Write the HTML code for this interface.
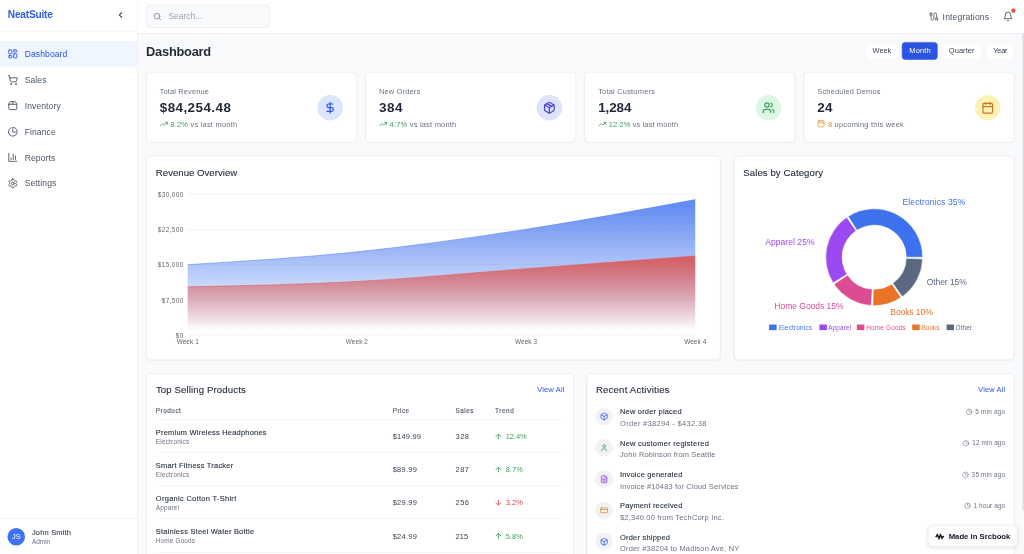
<!DOCTYPE html>
<html lang="en">
<head>
<meta charset="utf-8">
<title>NeatSuite Dashboard</title>
<style>
*{box-sizing:border-box;margin:0;padding:0}
html,body{width:1024px;height:554px;overflow:hidden;background:#f9fafb}
body{font-family:"Liberation Sans",Arial,sans-serif;color:#1f2937}
#app{position:absolute;left:0;top:0;width:1920px;height:1039px;transform:scale(.5333333);transform-origin:0 0;background:#f9fafb;overflow:hidden}
.abs{position:absolute}
.t{position:absolute;white-space:nowrap;line-height:1;transform:translateY(-52%)}
.t.r{transform:translate(-100%,-52%)}
.t.c{transform:translate(-50%,-52%)}
svg{display:block;overflow:visible}
.ic{position:absolute;fill:none;stroke:currentColor;stroke-width:2;stroke-linecap:round;stroke-linejoin:round}
#side{position:absolute;left:0;top:0;width:258px;height:1039px;background:#fff;border-right:1px solid #e5e7eb}
#sidehead{position:absolute;left:0;top:0;width:257px;height:59px;border-bottom:1px solid #e9ebee}
.nav{position:absolute;left:0;width:257px;height:48px;color:#4b5563}
.nav.on{background:#eff6ff;color:#2b54e1}
#user{position:absolute;left:0;top:970.6px;width:257px;height:69px;border-top:1px solid #e5e7eb}
#head{position:absolute;left:258px;top:0;width:1662px;height:63px;background:#fff;border-bottom:1px solid #e5e7eb}
#search{position:absolute;left:273.6px;top:9px;width:232.4px;height:43px;background:#f9fafb;border:1px solid #e2e5e9;border-radius:8px}
.btn{position:absolute;top:78.6px;height:33px;border-radius:6.5px;background:#fff;border:1px solid #f0f1f3}
.btn.on{background:#2b54e1;border-color:#2b54e1}
.card{position:absolute;background:#fff;border:1px solid #e5e7eb;border-radius:8px;box-shadow:0 1px 2px rgba(0,0,0,.04)}
.circ{position:absolute;width:48.6px;height:48.6px;border-radius:50%}
.med{-webkit-text-stroke:.2px currentColor}
.hr{position:absolute;height:1px;background:#eceef1}
</style>
</head>
<body>
<div id="app">
<div id="side"><div id="sidehead"></div>
<span class="t" id="logo" style="left:14.6px;top:28.3px;font-size:19px;letter-spacing:-0.40px;color:#2f5fe3;font-weight:700;">NeatSuite</span>
<svg class="ic" viewBox="0 0 24 24" style="left:216.9px;top:19.1px;width:18px;height:18px;color:#374151;stroke-width:2.7;"><path d="m15 18-6-6 6-6"/></svg>
<div class="nav on" style="top:77.0px">
<svg class="ic" viewBox="0 0 24 24" style="left:13.8px;top:14.0px;width:20px;height:20px;"><rect width="7" height="9" x="3" y="3" rx="1"/><rect width="7" height="5" x="14" y="3" rx="1"/><rect width="7" height="9" x="14" y="12" rx="1"/><rect width="7" height="5" x="3" y="16" rx="1"/></svg>
<span class="t" style="left:46.3px;top:25.3px;font-size:16px;letter-spacing:.2px;">Dashboard</span>
</div>
<div class="nav" style="top:125.6px">
<svg class="ic" viewBox="0 0 24 24" style="left:13.8px;top:14.0px;width:20px;height:20px;"><circle cx="8" cy="21" r="1"/><circle cx="19" cy="21" r="1"/><path d="M2.05 2.05h2l2.66 12.42a2 2 0 0 0 2 1.58h9.78a2 2 0 0 0 1.95-1.57l1.65-7.43H5.12"/></svg>
<span class="t" style="left:46.3px;top:25.3px;font-size:16px;letter-spacing:.2px;">Sales</span>
</div>
<div class="nav" style="top:174.2px">
<svg class="ic" viewBox="0 0 24 24" style="left:13.8px;top:14.0px;width:20px;height:20px;"><path d="M3 9h18v10a2 2 0 0 1-2 2H5a2 2 0 0 1-2-2V9Z"/><path d="m3 9 2.45-4.9A2 2 0 0 1 7.24 3h9.52a2 2 0 0 1 1.8 1.1L21 9"/><path d="M12 3v6"/></svg>
<span class="t" style="left:46.3px;top:25.3px;font-size:16px;letter-spacing:.2px;">Inventory</span>
</div>
<div class="nav" style="top:222.8px">
<svg class="ic" viewBox="0 0 24 24" style="left:13.8px;top:14.0px;width:20px;height:20px;"><path d="M21.21 15.89A10 10 0 1 1 8 2.83"/><path d="M22 12A10 10 0 0 0 12 2v10z"/></svg>
<span class="t" style="left:46.3px;top:25.3px;font-size:16px;letter-spacing:.2px;">Finance</span>
</div>
<div class="nav" style="top:271.4px">
<svg class="ic" viewBox="0 0 24 24" style="left:13.8px;top:14.0px;width:20px;height:20px;"><path d="M3 3v18h18"/><path d="M18 17V9"/><path d="M13 17V5"/><path d="M8 17v-3"/></svg>
<span class="t" style="left:46.3px;top:25.3px;font-size:16px;letter-spacing:.2px;">Reports</span>
</div>
<div class="nav" style="top:320.0px">
<svg class="ic" viewBox="0 0 24 24" style="left:13.8px;top:14.0px;width:20px;height:20px;"><path d="M12.22 2h-.44a2 2 0 0 0-2 2v.18a2 2 0 0 1-1 1.73l-.43.25a2 2 0 0 1-2 0l-.15-.08a2 2 0 0 0-2.73.73l-.22.38a2 2 0 0 0 .73 2.73l.15.1a2 2 0 0 1 1 1.72v.51a2 2 0 0 1-1 1.74l-.15.09a2 2 0 0 0-.73 2.73l.22.38a2 2 0 0 0 2.73.73l.15-.08a2 2 0 0 1 2 0l.43.25a2 2 0 0 1 1 1.73V20a2 2 0 0 0 2 2h.44a2 2 0 0 0 2-2v-.18a2 2 0 0 1 1-1.73l.43-.25a2 2 0 0 1 2 0l.15.08a2 2 0 0 0 2.73-.73l.22-.39a2 2 0 0 0-.73-2.73l-.15-.08a2 2 0 0 1-1-1.74v-.5a2 2 0 0 1 1-1.74l.15-.09a2 2 0 0 0 .73-2.73l-.22-.38a2 2 0 0 0-2.73-.73l-.15.08a2 2 0 0 1-2 0l-.43-.25a2 2 0 0 1-1-1.73V4a2 2 0 0 0-2-2z"/><circle cx="12" cy="12" r="3"/></svg>
<span class="t" style="left:46.3px;top:25.3px;font-size:16px;letter-spacing:.2px;">Settings</span>
</div>
<div id="user"></div>
<div class="abs" style="left:14px;top:989.5px;width:33px;height:33px;border-radius:50%;background:#3e71ee"></div>
<span class="t c" style="left:30.5px;top:1006.1px;font-size:14px;color:#fff;">JS</span>
<span class="t med" style="left:59.8px;top:998.4px;font-size:14px;letter-spacing:0.37px;color:#374151;">John Smith</span>
<span class="t" style="left:59.8px;top:1015.9px;font-size:12px;letter-spacing:0.06px;color:#6b7280;">Admin</span>
</div>
<div id="head"></div><div id="search"></div>
<svg class="ic" viewBox="0 0 24 24" style="left:286.6px;top:22.7px;width:16px;height:16px;color:#6b7280;"><circle cx="11" cy="11" r="8"/><path d="m21 21-4.3-4.3"/></svg>
<span class="t" style="left:315.8px;top:30.6px;font-size:16px;letter-spacing:-0.05px;color:#9ca3af;">Search...</span>
<svg class="ic" viewBox="0 0 24 24" style="left:1741.9px;top:22.1px;width:18px;height:18px;color:#4b5563;"><path d="M17 21v-2a1 1 0 0 1-1-1v-1a2 2 0 0 1 2-2h2a2 2 0 0 1 2 2v1a1 1 0 0 1-1 1"/><path d="M19 15V6.5a1 1 0 0 0-7 0v11a1 1 0 0 1-7 0V9"/><path d="M21 21v-2h-4"/><path d="M3 5h4V3"/><path d="M7 5a1 1 0 0 1 1 1v1a2 2 0 0 1-2 2H4a2 2 0 0 1-2-2V6a1 1 0 0 1 1-1V3"/></svg>
<span class="t" style="left:1767.4px;top:31.5px;font-size:16px;letter-spacing:0.30px;color:#4b5563;">Integrations</span>
<svg class="ic" viewBox="0 0 24 24" style="left:1879.6px;top:20.7px;width:20px;height:20px;color:#4b5563;"><path d="M6 8a6 6 0 0 1 12 0c0 7 3 9 3 9H3s3-2 3-9"/><path d="M10.3 21a1.94 1.94 0 0 0 3.4 0"/></svg>
<div class="abs" style="left:1896.2px;top:16.2px;width:8px;height:8px;border-radius:50%;background:#e64d3d"></div>
<span class="t" id="h1" style="left:273.9px;top:98.1px;font-size:24px;letter-spacing:-0.41px;color:#1f2937;font-weight:700;">Dashboard</span>
<div class="btn" style="left:1622.6px;width:60.7px"></div>
<span class="t" style="left:1636.1px;top:95.4px;font-size:14px;letter-spacing:-0.16px;color:#374151;">Week</span>
<div class="btn on" style="left:1691.2px;width:66.4px"></div>
<span class="t" style="left:1704.8px;top:95.4px;font-size:14px;letter-spacing:0.36px;color:#fff;">Month</span>
<div class="btn" style="left:1766.2px;width:74.6px"></div>
<span class="t" style="left:1779.0px;top:95.4px;font-size:14px;letter-spacing:0.13px;color:#374151;">Quarter</span>
<div class="btn" style="left:1848.8px;width:52.5px"></div>
<span class="t" style="left:1862.2px;top:95.4px;font-size:14px;letter-spacing:-0.42px;color:#374151;">Year</span>
<div class="card" style="left:274.0px;top:135px;width:395.0px;height:132.3px"></div>
<span class="t" style="left:299.5px;top:171.6px;font-size:14px;letter-spacing:0.23px;color:#6b7280;">Total Revenue</span>
<span class="t" style="left:299.5px;top:202.5px;font-size:25.2px;letter-spacing:0.81px;color:#1f2937;font-weight:700;">$84,254.48</span>
<svg class="ic" viewBox="0 0 24 24" style="left:299.5px;top:225.0px;width:15px;height:15px;color:#3f9f5c;stroke-width:2.5;"><polyline points="22 7 13.5 15.5 8.5 10.5 2 17"/><polyline points="16 7 22 7 22 13"/></svg>
<span class="t" style="left:319.4px;top:232.7px;font-size:14px;letter-spacing:0.4px;color:#6b7280"><span style="color:#3f9f5c">8.2%</span> vs last month</span>
<div class="circ" style="left:594.8px;top:177.8px;background:#dbe6fd"></div>
<svg class="ic" viewBox="0 0 24 24" style="left:607.1px;top:190.1px;width:24px;height:24px;color:#2b54e1;stroke-width:2.3;"><line x1="12" x2="12" y1="2" y2="22"/><path d="M17 5H9.5a3.5 3.5 0 0 0 0 7h5a3.5 3.5 0 0 1 0 7H6"/></svg>
<div class="card" style="left:685.0px;top:135px;width:395.0px;height:132.3px"></div>
<span class="t" style="left:710.5px;top:171.6px;font-size:14px;letter-spacing:0.31px;color:#6b7280;">New Orders</span>
<span class="t" style="left:710.5px;top:202.5px;font-size:25.2px;letter-spacing:1.05px;color:#1f2937;font-weight:700;">384</span>
<svg class="ic" viewBox="0 0 24 24" style="left:710.5px;top:225.0px;width:15px;height:15px;color:#3f9f5c;stroke-width:2.5;"><polyline points="22 7 13.5 15.5 8.5 10.5 2 17"/><polyline points="16 7 22 7 22 13"/></svg>
<span class="t" style="left:730.4px;top:232.7px;font-size:14px;letter-spacing:0.4px;color:#6b7280"><span style="color:#3f9f5c">4.7%</span> vs last month</span>
<div class="circ" style="left:1005.8px;top:177.8px;background:#dfe3fc"></div>
<svg class="ic" viewBox="0 0 24 24" style="left:1018.1px;top:190.1px;width:24px;height:24px;color:#4a42d6;stroke-width:2.3;"><path d="m7.5 4.27 9 5.15"/><path d="M21 8a2 2 0 0 0-1-1.73l-7-4a2 2 0 0 0-2 0l-7 4A2 2 0 0 0 3 8v8a2 2 0 0 0 1 1.73l7 4a2 2 0 0 0 2 0l7-4A2 2 0 0 0 21 16Z"/><path d="m3.3 7 8.7 5 8.7-5"/><path d="M12 22V12"/></svg>
<div class="card" style="left:1096.0px;top:135px;width:395.0px;height:132.3px"></div>
<span class="t" style="left:1121.5px;top:171.6px;font-size:14px;letter-spacing:0.38px;color:#6b7280;">Total Customers</span>
<span class="t" style="left:1121.5px;top:202.5px;font-size:25.2px;letter-spacing:-0.13px;color:#1f2937;font-weight:700;">1,284</span>
<svg class="ic" viewBox="0 0 24 24" style="left:1121.5px;top:225.0px;width:15px;height:15px;color:#3f9f5c;stroke-width:2.5;"><polyline points="22 7 13.5 15.5 8.5 10.5 2 17"/><polyline points="16 7 22 7 22 13"/></svg>
<span class="t" style="left:1141.4px;top:232.7px;font-size:14px;letter-spacing:0.22px;color:#6b7280"><span style="color:#3f9f5c">12.2%</span> vs last month</span>
<div class="circ" style="left:1416.8px;top:177.8px;background:#dcf7e3"></div>
<svg class="ic" viewBox="0 0 24 24" style="left:1429.1px;top:190.1px;width:24px;height:24px;color:#3f9f5c;stroke-width:2.3;"><path d="M16 21v-2a4 4 0 0 0-4-4H6a4 4 0 0 0-4 4v2"/><circle cx="9" cy="7" r="4"/><path d="M22 21v-2a4 4 0 0 0-3-3.87"/><path d="M16 3.13a4 4 0 0 1 0 7.75"/></svg>
<div class="card" style="left:1507.0px;top:135px;width:395.0px;height:132.3px"></div>
<span class="t" style="left:1532.5px;top:171.6px;font-size:14px;letter-spacing:0.29px;color:#6b7280;">Scheduled Demos</span>
<span class="t" style="left:1532.5px;top:202.5px;font-size:25.2px;letter-spacing:0.33px;color:#1f2937;font-weight:700;">24</span>
<svg class="ic" viewBox="0 0 24 24" style="left:1532.3px;top:224.2px;width:15px;height:15px;color:#d98a2b;"><path d="M8 2v4"/><path d="M16 2v4"/><rect width="18" height="18" x="3" y="4" rx="2"/><path d="M3 10h18"/></svg>
<span class="t" style="left:1552.4px;top:232.7px;font-size:14px;letter-spacing:0.4px;color:#6b7280"><span style="color:#d98a2b">8</span> upcoming this week</span>
<div class="circ" style="left:1827.8px;top:177.8px;background:#fdf3b8"></div>
<svg class="ic" viewBox="0 0 24 24" style="left:1840.1px;top:190.1px;width:24px;height:24px;color:#c9771c;stroke-width:2.3;"><path d="M8 2v4"/><path d="M16 2v4"/><rect width="18" height="18" x="3" y="4" rx="2"/><path d="M3 10h18"/></svg>
<div class="card" style="left:274.0px;top:292.0px;width:1077.3px;height:383.0px">
<span class="t med" style="left:17.2px;top:31.6px;font-size:18px;letter-spacing:0.03px;color:#1f2937;">Revenue Overview</span>
<svg class="abs" style="left:0;top:0" width="1077.3" height="383.0" font-family="Liberation Sans, Arial, sans-serif" font-size="12" fill="#666">
<defs><linearGradient id="gb" x1="0" y1="0" x2="0" y2="1"><stop offset="5%" stop-color="#3e71ee" stop-opacity=".8"/><stop offset="95%" stop-color="#3e71ee" stop-opacity="0"/></linearGradient><linearGradient id="gr" x1="0" y1="0" x2="0" y2="1"><stop offset="5%" stop-color="#e04a42" stop-opacity=".8"/><stop offset="95%" stop-color="#e04a42" stop-opacity="0"/></linearGradient></defs>
<line x1="77.0" x2="1028.6" y1="70.7" y2="70.7" stroke="#cdd0d5" stroke-width="1" stroke-dasharray="3 3"/>
<line x1="77.0" x2="1028.6" y1="137.8" y2="137.8" stroke="#cdd0d5" stroke-width="1" stroke-dasharray="3 3"/>
<line x1="77.0" x2="1028.6" y1="203.2" y2="203.2" stroke="#cdd0d5" stroke-width="1" stroke-dasharray="3 3"/>
<line x1="77.0" x2="1028.6" y1="269.6" y2="269.6" stroke="#cdd0d5" stroke-width="1" stroke-dasharray="3 3"/>
<line x1="77.0" x2="1028.6" y1="335.1" y2="335.1" stroke="#cdd0d5" stroke-width="1" stroke-dasharray="3 3"/>
<path d="M77.00,203.25C182.73,196.78,288.47,190.31,394.20,179.25C499.93,168.19,605.67,153.22,711.40,136.88C817.13,120.53,922.87,100.86,1028.60,81.19L1028.60,335.06L77.00,335.06Z" fill="url(#gb)"/>
<path d="M77.00,203.25C182.73,196.78,288.47,190.31,394.20,179.25C499.93,168.19,605.67,153.22,711.40,136.88C817.13,120.53,922.87,100.86,1028.60,81.19" fill="none" stroke="#5582f0" stroke-width="1"/>
<path d="M77.00,244.88C182.73,242.66,288.47,240.44,394.20,234.75C499.93,229.06,605.67,218.72,711.40,210.75C817.13,202.78,922.87,194.86,1028.60,186.94L1028.60,335.06L77.00,335.06Z" fill="url(#gr)"/>
<path d="M77.00,244.88C182.73,242.66,288.47,240.44,394.20,234.75C499.93,229.06,605.67,218.72,711.40,210.75C817.13,202.78,922.87,194.86,1028.60,186.94" fill="none" stroke="#dd5a55" stroke-width="1"/>
<text x="69.4" y="71.0" text-anchor="end" dominant-baseline="central" letter-spacing=".75">$30,000</text>
<text x="69.4" y="138.1" text-anchor="end" dominant-baseline="central" letter-spacing=".75">$22,500</text>
<text x="69.4" y="203.5" text-anchor="end" dominant-baseline="central" letter-spacing=".75">$15,000</text>
<text x="69.4" y="269.9" text-anchor="end" dominant-baseline="central" letter-spacing=".75">$7,500</text>
<text x="69.4" y="335.4" text-anchor="end" dominant-baseline="central" letter-spacing=".75">$0</text>
<text x="77.0" y="346.8" text-anchor="middle" dominant-baseline="central" letter-spacing=".2">Week 1</text>
<text x="394.2" y="346.8" text-anchor="middle" dominant-baseline="central" letter-spacing=".2">Week 2</text>
<text x="711.4" y="346.8" text-anchor="middle" dominant-baseline="central" letter-spacing=".2">Week 3</text>
<text x="1028.6" y="346.8" text-anchor="middle" dominant-baseline="central" letter-spacing=".2">Week 4</text>
</svg></div>
<div class="card" style="left:1375.5px;top:292.0px;width:526.5px;height:383.0px">
<span class="t med" style="left:17.1px;top:31.2px;font-size:18px;letter-spacing:0.16px;color:#1f2937;">Sales by Category</span>
<svg class="abs" style="left:-1.5px;top:-1px" width="526.5" height="383.0" font-family="Liberation Sans, Arial, sans-serif">
<path d="M354.90,190.30A90.80,90.80,0,0,0,215.31,113.72L231.75,139.53A60.20,60.20,0,0,1,324.30,190.30Z" fill="#3e71ee" stroke="#fff" stroke-width="1"/>
<path d="M212.67,115.47A90.80,90.80,0,0,0,187.10,238.42L213.05,222.20A60.20,60.20,0,0,1,230.00,140.69Z" fill="#9a4af0" stroke="#fff" stroke-width="1"/>
<path d="M188.82,241.07A90.80,90.80,0,0,0,258.56,280.93L260.42,250.39A60.20,60.20,0,0,1,214.19,223.96Z" fill="#dc4c93" stroke="#fff" stroke-width="1"/>
<path d="M261.72,281.07A90.80,90.80,0,0,0,314.22,266.02L297.33,240.50A60.20,60.20,0,0,1,262.52,250.48Z" fill="#ea7327" stroke="#fff" stroke-width="1"/>
<path d="M316.83,264.22A90.80,90.80,0,0,0,354.84,193.47L324.26,192.40A60.20,60.20,0,0,1,299.06,239.31Z" fill="#5c6780" stroke="#fff" stroke-width="1"/>
<text x="317.2" y="86.9" text-anchor="start" dominant-baseline="central" font-size="16" letter-spacing="0.23" fill="#3e71ee">Electronics 35%</text>
<text x="152.4" y="162.2" text-anchor="end" dominant-baseline="central" font-size="16" letter-spacing="0.11" fill="#9a4af0">Apparel 25%</text>
<text x="206.8" y="281.9" text-anchor="end" dominant-baseline="central" font-size="16" letter-spacing="-0.04" fill="#dc4c93">Home Goods 15%</text>
<text x="294.4" y="292.2" text-anchor="start" dominant-baseline="central" font-size="16" letter-spacing="-0.16" fill="#ea7327">Books 10%</text>
<text x="362.6" y="236.9" text-anchor="start" dominant-baseline="central" font-size="16" letter-spacing="-0.14" fill="#5c6780">Other 15%</text>
<rect x="67.1" y="316.5" width="14" height="10.5" fill="#3e71ee"/>
<text x="85.5" y="322.0" dominant-baseline="central" font-size="12" letter-spacing="0.36" fill="#3e71ee">Electronics</text>
<rect x="161.4" y="316.5" width="14" height="10.5" fill="#9a4af0"/>
<text x="177.8" y="322.0" dominant-baseline="central" font-size="12" letter-spacing="0.31" fill="#9a4af0">Apparel</text>
<rect x="231.6" y="316.5" width="14" height="10.5" fill="#dc4c93"/>
<text x="249.4" y="322.0" dominant-baseline="central" font-size="12" letter-spacing="0.34" fill="#dc4c93">Home Goods</text>
<rect x="335.4" y="316.5" width="14" height="10.5" fill="#ea7327"/>
<text x="353.1" y="322.0" dominant-baseline="central" font-size="12" letter-spacing="0.00" fill="#ea7327">Books</text>
<rect x="399.8" y="316.5" width="14" height="10.5" fill="#5c6780"/>
<text x="416.8" y="322.0" dominant-baseline="central" font-size="12" letter-spacing="0.19" fill="#5c6780">Other</text>
</svg></div>
<div class="card" style="left:274.0px;top:700.0px;width:802.0px;height:400px"></div>
<span class="t med" style="left:292.3px;top:731.1px;font-size:18px;letter-spacing:0.23px;color:#1f2937;">Top Selling Products</span>
<span class="t r" style="left:1058.2px;top:731.1px;font-size:14px;letter-spacing:0.30px;margin-left:0.30px;color:#2b54e1;">View All</span>
<span class="t med" style="left:292.1px;top:770.2px;font-size:12px;letter-spacing:0.95px;color:#4b5563;">Product</span>
<span class="t med" style="left:736.3px;top:770.2px;font-size:12px;letter-spacing:0.87px;color:#4b5563;">Price</span>
<span class="t med" style="left:854.1px;top:770.2px;font-size:12px;letter-spacing:0.90px;color:#4b5563;">Sales</span>
<span class="t med" style="left:928.1px;top:770.2px;font-size:12px;letter-spacing:1.06px;color:#4b5563;">Trend</span>
<div class="hr" style="left:291.9px;width:766.5px;top:786.2px"></div>
<span class="t med" style="left:292.1px;top:810.4px;font-size:14px;letter-spacing:0.42px;color:#1f2937;">Premium Wireless Headphones</span>
<span class="t" style="left:292.1px;top:828.4px;font-size:12px;letter-spacing:0.39px;color:#6b7280;">Electronics</span>
<span class="t" style="left:736.3px;top:818.8px;font-size:14px;letter-spacing:0.40px;color:#374151;">$149.99</span>
<span class="t" style="left:854.1px;top:818.8px;font-size:14px;letter-spacing:0.90px;color:#374151;">328</span>
<svg class="ic" viewBox="0 0 24 24" style="left:927.4px;top:810.9px;width:15px;height:15px;color:#3f9f5c;stroke-width:2.7;"><path d="m5 12 7-7 7 7"/><path d="M12 19V5"/></svg>
<span class="t" style="left:948.2px;top:818.8px;font-size:14px;letter-spacing:-0.10px;color:#3f9f5c;">12.4%</span>
<div class="hr" style="left:291.9px;width:766.5px;top:848.3px"></div>
<span class="t med" style="left:292.1px;top:872.4px;font-size:14px;letter-spacing:0.41px;color:#1f2937;">Smart Fitness Tracker</span>
<span class="t" style="left:292.1px;top:890.4px;font-size:12px;letter-spacing:0.39px;color:#6b7280;">Electronics</span>
<span class="t" style="left:736.3px;top:880.9px;font-size:14px;letter-spacing:0.52px;color:#374151;">$89.99</span>
<span class="t" style="left:854.1px;top:880.9px;font-size:14px;letter-spacing:0.90px;color:#374151;">287</span>
<svg class="ic" viewBox="0 0 24 24" style="left:927.4px;top:873.0px;width:15px;height:15px;color:#3f9f5c;stroke-width:2.7;"><path d="m5 12 7-7 7 7"/><path d="M12 19V5"/></svg>
<span class="t" style="left:948.2px;top:880.9px;font-size:14px;letter-spacing:0.04px;color:#3f9f5c;">8.7%</span>
<div class="hr" style="left:291.9px;width:766.5px;top:910.4px"></div>
<span class="t med" style="left:292.1px;top:934.5px;font-size:14px;letter-spacing:0.56px;color:#1f2937;">Organic Cotton T-Shirt</span>
<span class="t" style="left:292.1px;top:952.5px;font-size:12px;letter-spacing:0.31px;color:#6b7280;">Apparel</span>
<span class="t" style="left:736.3px;top:942.9px;font-size:14px;letter-spacing:0.52px;color:#374151;">$29.99</span>
<span class="t" style="left:854.1px;top:942.9px;font-size:14px;letter-spacing:0.90px;color:#374151;">256</span>
<svg class="ic" viewBox="0 0 24 24" style="left:927.4px;top:935.1px;width:15px;height:15px;color:#d9484a;stroke-width:2.7;"><path d="M12 5v14"/><path d="m19 12-7 7-7-7"/></svg>
<span class="t" style="left:948.2px;top:942.9px;font-size:14px;letter-spacing:0.04px;color:#d9484a;">3.2%</span>
<div class="hr" style="left:291.9px;width:766.5px;top:972.4px"></div>
<span class="t med" style="left:292.1px;top:996.6px;font-size:14px;letter-spacing:0.42px;color:#1f2937;">Stainless Steel Water Bottle</span>
<span class="t" style="left:292.1px;top:1014.6px;font-size:12px;letter-spacing:0.32px;color:#6b7280;">Home Goods</span>
<span class="t" style="left:736.3px;top:1005.0px;font-size:14px;letter-spacing:0.52px;color:#374151;">$24.99</span>
<span class="t" style="left:854.1px;top:1005.0px;font-size:14px;letter-spacing:0.28px;color:#374151;">215</span>
<svg class="ic" viewBox="0 0 24 24" style="left:927.4px;top:997.1px;width:15px;height:15px;color:#3f9f5c;stroke-width:2.7;"><path d="m5 12 7-7 7 7"/><path d="M12 19V5"/></svg>
<span class="t" style="left:948.2px;top:1005.0px;font-size:14px;letter-spacing:0.04px;color:#3f9f5c;">5.8%</span>
<div class="hr" style="left:291.9px;width:766.5px;top:1034.5px"></div>
<div class="card" style="left:1100.0px;top:700.0px;width:802.0px;height:400px"></div>
<span class="t med" style="left:1117.3px;top:731.1px;font-size:18px;letter-spacing:0.38px;color:#1f2937;">Recent Activities</span>
<span class="t r" style="left:1884.6px;top:731.1px;font-size:14px;letter-spacing:0.23px;margin-left:0.23px;color:#2b54e1;">View All</span>
<div class="abs" style="left:1116.4px;top:764.6px;width:32.6px;height:32.6px;border-radius:50%;background:#f1f2f5"></div>
<svg class="ic" viewBox="0 0 24 24" style="left:1124.9px;top:773.2px;width:15.5px;height:15.5px;color:#2b54e1;stroke-width:2.2;"><path d="M21 8a2 2 0 0 0-1-1.73l-7-4a2 2 0 0 0-2 0l-7 4A2 2 0 0 0 3 8v8a2 2 0 0 0 1 1.73l7 4a2 2 0 0 0 2 0l7-4A2 2 0 0 0 21 16Z"/><path d="m3.3 7 8.7 5 8.7-5"/><path d="M12 22V12"/></svg>
<span class="t med" style="left:1162.5px;top:771.9px;font-size:14px;letter-spacing:0.38px;color:#1f2937;">New order placed</span>
<span class="t" style="left:1162.5px;top:794.4px;font-size:14px;letter-spacing:0.60px;color:#6b7280;">Order #38294 - $432.38</span>
<span class="t r" style="left:1884.6px;top:772.5px;font-size:12px;letter-spacing:0.39px;margin-left:0.39px;color:#6b7280;">5 min ago</span>
<svg class="ic" viewBox="0 0 24 24" style="left:1811.0px;top:766.2px;width:12.5px;height:12.5px;color:#6b7280;"><circle cx="12" cy="12" r="10"/><polyline points="12 6 12 12 16 14"/></svg>
<div class="abs" style="left:1116.4px;top:823.3px;width:32.6px;height:32.6px;border-radius:50%;background:#f1f2f5"></div>
<svg class="ic" viewBox="0 0 24 24" style="left:1124.9px;top:831.9px;width:15.5px;height:15.5px;color:#3f9f5c;stroke-width:2.2;"><path d="M19 21v-2a4 4 0 0 0-4-4H9a4 4 0 0 0-4 4v2"/><circle cx="12" cy="7" r="4"/></svg>
<span class="t med" style="left:1162.5px;top:830.6px;font-size:14px;letter-spacing:0.50px;color:#1f2937;">New customer registered</span>
<span class="t" style="left:1162.5px;top:853.1px;font-size:14px;letter-spacing:0.24px;color:#6b7280;">John Robinson from Seattle</span>
<span class="t r" style="left:1884.6px;top:831.2px;font-size:12px;letter-spacing:0.25px;margin-left:0.25px;color:#6b7280;">12 min ago</span>
<svg class="ic" viewBox="0 0 24 24" style="left:1805.4px;top:824.9px;width:12.5px;height:12.5px;color:#6b7280;"><circle cx="12" cy="12" r="10"/><polyline points="12 6 12 12 16 14"/></svg>
<div class="abs" style="left:1116.4px;top:882.0px;width:32.6px;height:32.6px;border-radius:50%;background:#f1f2f5"></div>
<svg class="ic" viewBox="0 0 24 24" style="left:1124.9px;top:890.6px;width:15.5px;height:15.5px;color:#8b3fe0;stroke-width:2.2;"><path d="M15 2H6a2 2 0 0 0-2 2v16a2 2 0 0 0 2 2h12a2 2 0 0 0 2-2V7Z"/><path d="M14 2v4a2 2 0 0 0 2 2h4"/><path d="M10 9H8"/><path d="M16 13H8"/><path d="M16 17H8"/></svg>
<span class="t med" style="left:1162.5px;top:889.3px;font-size:14px;letter-spacing:0.35px;color:#1f2937;">Invoice generated</span>
<span class="t" style="left:1162.5px;top:911.8px;font-size:14px;letter-spacing:0.28px;color:#6b7280;">Invoice #10483 for Cloud Services</span>
<span class="t r" style="left:1884.6px;top:889.9px;font-size:12px;letter-spacing:0.38px;margin-left:0.38px;color:#6b7280;">35 min ago</span>
<svg class="ic" viewBox="0 0 24 24" style="left:1804.1px;top:883.6px;width:12.5px;height:12.5px;color:#6b7280;"><circle cx="12" cy="12" r="10"/><polyline points="12 6 12 12 16 14"/></svg>
<div class="abs" style="left:1116.4px;top:940.7px;width:32.6px;height:32.6px;border-radius:50%;background:#f1f2f5"></div>
<svg class="ic" viewBox="0 0 24 24" style="left:1124.9px;top:949.3px;width:15.5px;height:15.5px;color:#d98a2b;stroke-width:2.2;"><rect width="20" height="14" x="2" y="5" rx="2"/><line x1="2" x2="22" y1="10" y2="10"/></svg>
<span class="t med" style="left:1162.5px;top:948.0px;font-size:14px;letter-spacing:0.32px;color:#1f2937;">Payment received</span>
<span class="t" style="left:1162.5px;top:970.5px;font-size:14px;letter-spacing:0.39px;color:#6b7280;">$2,340.00 from TechCorp Inc.</span>
<span class="t r" style="left:1884.6px;top:948.6px;font-size:12px;letter-spacing:0.21px;margin-left:0.21px;color:#6b7280;">1 hour ago</span>
<svg class="ic" viewBox="0 0 24 24" style="left:1807.8px;top:942.3px;width:12.5px;height:12.5px;color:#6b7280;"><circle cx="12" cy="12" r="10"/><polyline points="12 6 12 12 16 14"/></svg>
<div class="abs" style="left:1116.4px;top:999.4px;width:32.6px;height:32.6px;border-radius:50%;background:#f1f2f5"></div>
<svg class="ic" viewBox="0 0 24 24" style="left:1124.9px;top:1007.9px;width:15.5px;height:15.5px;color:#2b54e1;stroke-width:2.2;"><path d="M21 8a2 2 0 0 0-1-1.73l-7-4a2 2 0 0 0-2 0l-7 4A2 2 0 0 0 3 8v8a2 2 0 0 0 1 1.73l7 4a2 2 0 0 0 2 0l7-4A2 2 0 0 0 21 16Z"/><path d="m3.3 7 8.7 5 8.7-5"/><path d="M12 22V12"/></svg>
<span class="t med" style="left:1162.5px;top:1006.7px;font-size:14px;letter-spacing:0.42px;color:#1f2937;">Order shipped</span>
<span class="t" style="left:1162.5px;top:1029.2px;font-size:14px;letter-spacing:0.35px;color:#6b7280;">Order #38204 to Madison Ave, NY</span>
<div class="abs" id="badge" style="left:1739.8px;top:985px;width:168.4px;height:40px;background:#fdfdfe;border:1px solid #e8eaee;border-radius:9px;box-shadow:0 2px 7px rgba(0,0,0,.10)"></div>
<svg class="abs" viewBox="0 0 16 10" style="left:1754.2px;top:1001.2px;width:16px;height:10px;fill:none;stroke:#111;stroke-width:2.7;stroke-linejoin:miter;stroke-linecap:butt"><path d="M0.6,6.3L3.6,1.6L6.6,8.4L9.4,1.6L12.4,8.4L15.4,3.8"/></svg>
<span class="t" style="left:1778.8px;top:1006.3px;font-size:14.5px;letter-spacing:-0.03px;color:#111827;font-weight:700;">Made in Srcbook</span>
<div class="abs" style="left:1916.6px;top:63px;width:3.4px;height:894px;background:#c5c9d8;opacity:.6"></div>
</div>
</body>
</html>
